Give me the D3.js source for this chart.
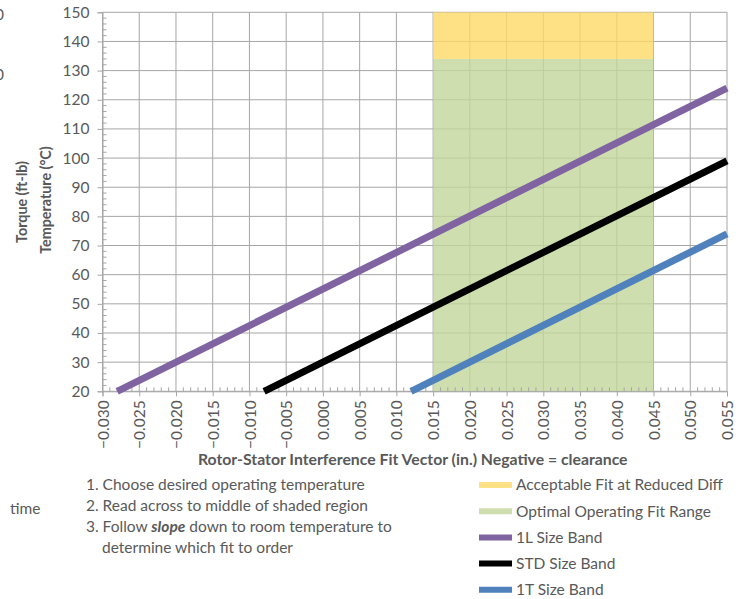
<!DOCTYPE html>
<html>
<head>
<meta charset="utf-8">
<script src="https://cdn.jsdelivr.net/npm/d3@7"></script>
<style>
  body { margin: 0; background: #fff; }
  text { font-family: Lato, "Open Sans", sans-serif; }
</style>
</head>
<body>
<div id="chart"></div>
<script>
// axis ranges and ticks
var xTicks = [-0.030, -0.025, -0.020, -0.015, -0.010, -0.005, 0.000, 0.005, 0.010,
              0.015, 0.020, 0.025, 0.030, 0.035, 0.040, 0.045, 0.050, 0.055];
var yTicks = [20, 30, 40, 50, 60, 70, 80, 90, 100, 110, 120, 130, 140, 150];

// shaded fit ranges (x from / to, temperature from / to)
var fitRange = [0.015, 0.045];
var optimalBand = [20, 134];
var acceptableBand = [134, 150];

// size band lines [fit, temperature]
var band1L = [[-0.028, 20], [0.055, 124]];
var bandSTD = [[-0.008, 20], [0.055, 99]];
var band1T = [[0.012, 20], [0.055, 74]];

var legendNames = ["Acceptable Fit at Reduced Diff", "Optimal Operating Fit Range",
                   "1L Size Band", "STD Size Band", "1T Size Band"];
var legendColors = ["#fed966", "#c3d69b", "#8064a2", "#000000", "#4f81bd"];

var notes = ["1. Choose desired operating temperature",
             "2. Read across to middle of shaded region"];

var fontSize = "15.5px";

var margin = { top: 12.3, left: 102.5 },
    width = 624.5,
    height = 379;

var svg = d3.select("#chart")
  .append("svg")
    .attr("width", 744)
    .attr("height", 599);

var g = svg.append("g")
    .attr("transform", "translate(" + margin.left + "," + margin.top + ")");

var x = d3.scaleLinear().domain([-0.030, 0.055]).range([0, width]);
var y = d3.scaleLinear().domain([20, 150]).range([height, 0]);

// gridlines
g.append("g")
  .selectAll("line")
  .data(yTicks)
  .enter().append("line")
    .attr("x1", 0).attr("x2", width)
    .attr("y1", function(d) { return y(d); })
    .attr("y2", function(d) { return y(d); })
    .attr("stroke", "#a6a6a6");
g.append("g")
  .selectAll("line")
  .data(xTicks)
  .enter().append("line")
    .attr("y1", 0).attr("y2", height)
    .attr("x1", function(d) { return x(d); })
    .attr("x2", function(d) { return x(d); })
    .attr("stroke", "#a6a6a6");

// shaded regions
g.append("rect")
  .attr("x", x(fitRange[0]))
  .attr("width", x(fitRange[1]) - x(fitRange[0]))
  .attr("y", y(optimalBand[1]))
  .attr("height", y(optimalBand[0]) - y(optimalBand[1]))
  .attr("fill", legendColors[1])
  .attr("fill-opacity", 0.8);
g.append("rect")
  .attr("x", x(fitRange[0]))
  .attr("width", x(fitRange[1]) - x(fitRange[0]))
  .attr("y", y(acceptableBand[1]))
  .attr("height", y(acceptableBand[0]) - y(acceptableBand[1]))
  .attr("fill", legendColors[0])
  .attr("fill-opacity", 0.8);

// axes
var xAxis = g.append("g")
  .attr("transform", "translate(0," + height + ")")
  .call(d3.axisBottom(x).tickValues(xTicks).tickSize(5).tickFormat(d3.format(".3f")));
xAxis.select(".domain").attr("stroke", "#a6a6a6");
xAxis.selectAll(".tick line").attr("stroke", "#a6a6a6");
xAxis.selectAll("text")
  .attr("transform", "rotate(-90)")
  .attr("x", -9).attr("y", 0).attr("dy", "0.36em")
  .style("text-anchor", "end")
  .attr("fill", "#595959")
  .style("font-size", fontSize);

var yAxis = g.append("g")
  .call(d3.axisLeft(y).tickValues(yTicks).tickSize(5));
yAxis.select(".domain").attr("stroke", "#a6a6a6");
yAxis.selectAll(".tick line").attr("stroke", "#a6a6a6");
yAxis.selectAll("text")
  .attr("x", -13)
  .attr("fill", "#595959")
  .style("font-size", fontSize);

// minor ticks
var xMinor = d3.range(-30, 56).filter(function(d) { return d % 5 !== 0; })
  .map(function(d) { return d / 1000; });
g.append("g").selectAll("line")
  .data(xMinor)
  .enter().append("line")
    .attr("x1", function(d) { return x(d); })
    .attr("x2", function(d) { return x(d); })
    .attr("y1", height).attr("y2", height - 4)
    .attr("stroke", "#a6a6a6");
var yMinor = d3.range(20, 151, 2).filter(function(d) { return d % 10 !== 0; });
g.append("g").selectAll("line")
  .data(yMinor)
  .enter().append("line")
    .attr("y1", function(d) { return y(d); })
    .attr("y2", function(d) { return y(d); })
    .attr("x1", 0).attr("x2", 4)
    .attr("stroke", "#a6a6a6");

// size band lines
var line = d3.line()
  .x(function(d) { return x(d[0]); })
  .y(function(d) { return y(d[1]); });

[band1L, bandSTD, band1T].forEach(function(d, i) {
  g.append("path")
    .datum(d)
    .attr("d", line)
    .attr("fill", "none")
    .attr("stroke", legendColors[i + 2])
    .attr("stroke-width", 7);
});

// axis titles
svg.append("text")
  .attr("x", margin.left + width / 2 - 2).attr("y", 465)
  .attr("text-anchor", "middle")
  .attr("fill", "#595959")
  .style("font-weight", "bold")
  .style("font-size", "15.8px")
  .text("Rotor-Stator Interference Fit Vector (in.) Negative = clearance");

svg.append("text")
  .attr("transform", "translate(27,202)rotate(-90)")
  .attr("text-anchor", "middle")
  .attr("fill", "#595959")
  .style("font-weight", "bold")
  .style("font-size", "14.3px")
  .text("Torque (ft-lb)");
svg.append("text")
  .attr("transform", "translate(51,200)rotate(-90)")
  .attr("text-anchor", "middle")
  .attr("fill", "#595959")
  .style("font-weight", "bold")
  .style("font-size", "14.3px")
  .text("Temperature (°C)");

// stray text cut off at the left edge
svg.append("text").attr("x", 4).attr("y", 20).attr("text-anchor", "end")
  .attr("fill", "#595959").style("font-size", fontSize).text("0");
svg.append("text").attr("x", 4).attr("y", 80).attr("text-anchor", "end")
  .attr("fill", "#595959").style("font-size", fontSize).text("0");
svg.append("text").attr("x", 10).attr("y", 514)
  .attr("fill", "#595959").style("font-size", fontSize).text("time");

// instructions
var notesG = svg.append("g").attr("fill", "#595959").style("font-size", fontSize);
notes.forEach(function(t, i) {
  notesG.append("text").attr("x", 86).attr("y", 490 + i * 21).text(t);
});
var n3 = notesG.append("text").attr("x", 86).attr("y", 532);
n3.append("tspan").text("3. Follow ");
n3.append("tspan").style("font-weight", "bold").style("font-style", "italic").text("slope");
n3.append("tspan").text(" down to room temperature to");
notesG.append("text").attr("x", 102).attr("y", 553).text("determine which fit to order");

// legend
var legend = svg.append("g")
  .selectAll("g")
  .data(legendNames)
  .enter().append("g")
    .attr("transform", function(d, i) { return "translate(479," + (485 + i * 26.2) + ")"; });
legend.append("line")
  .attr("x1", 0).attr("x2", 33)
  .attr("stroke", function(d, i) { return legendColors[i]; })
  .attr("stroke-opacity", function(d, i) { return i < 2 ? 0.8 : 1; })
  .attr("stroke-width", 6);
legend.append("text")
  .attr("x", 37).attr("dy", "0.35em")
  .attr("fill", "#595959")
  .style("font-size", fontSize)
  .text(function(d) { return d; });
</script>
</body>
</html>
